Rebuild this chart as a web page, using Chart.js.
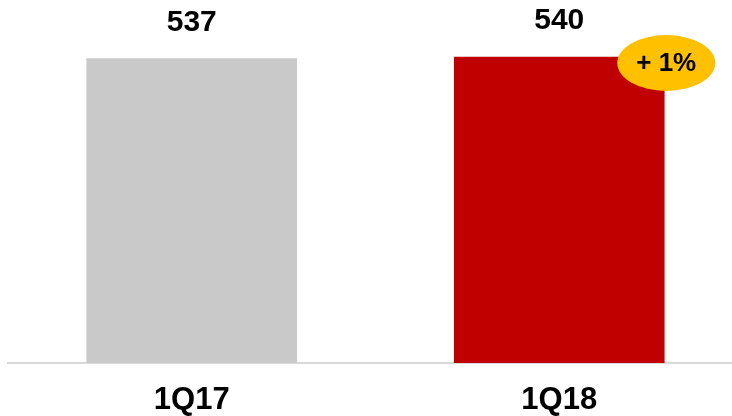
<!DOCTYPE html>
<html>
<head>
<meta charset="utf-8">
<script src="https://cdn.jsdelivr.net/npm/chart.js@4"></script>
<style>
  html, body { margin: 0; padding: 0; background: #fff; overflow: hidden; }
  #wrap { width: 732px; height: 416px; overflow: hidden; }
</style>
</head>
<body>
<div id="wrap"><canvas id="chart" width="743" height="416"></canvas></div>
<script>
// Chart data
var categories = ['1Q17', '1Q18'];
var values = [537, 540];
var barColors = ['#C9C9C9', '#C00000'];
var badges = ['', '+ 1%'];

var FONT = '"Liberation Sans", Arial, sans-serif';

// Draw value labels above bars and the yellow growth badge
var labelPlugin = {
  id: 'labels',
  afterDatasetsDraw: function (chart) {
    var ctx = chart.ctx;
    var meta = chart.getDatasetMeta(0);
    ctx.save();
    meta.data.forEach(function (bar, i) {
      ctx.fillStyle = '#000';
      ctx.font = 'bold 30px ' + FONT;
      ctx.textAlign = 'center';
      ctx.textBaseline = 'middle';
      ctx.fillText(values[i], bar.x, bar.y - 36);

      if (badges[i]) {
        var cx = bar.x + bar.width / 2 + 2;
        var cy = bar.y + 6;
        ctx.beginPath();
        ctx.ellipse(cx, cy, 49, 28, 0, 0, Math.PI * 2);
        ctx.fillStyle = '#FFC000';
        ctx.fill();
        ctx.fillStyle = '#000';
        ctx.font = 'bold 26px ' + FONT;
        ctx.fillText(badges[i], cx, cy + 1);
      }
    });
    ctx.restore();
  }
};

new Chart(document.getElementById('chart'), {
  type: 'bar',
  data: {
    labels: categories,
    datasets: [{
      data: values,
      backgroundColor: barColors,
      borderWidth: 0,
      barThickness: 210
    }]
  },
  options: {
    responsive: false,
    animation: false,
    layout: { padding: { top: 23, left: 8, right: 0, bottom: 0 } },
    plugins: { legend: { display: false }, tooltip: { enabled: false } },
    scales: {
      x: {
        grid: { display: false, drawTicks: false },
        border: { display: true, color: '#D9D9D9', width: 2 },
        ticks: {
          color: '#000',
          padding: 22,
          font: { family: FONT, size: 31, weight: 'bold', lineHeight: 1 }
        },
        afterFit: function (scale) { scale.height = 53; }
      },
      y: {
        display: false,
        min: 0,
        max: 600
      }
    }
  },
  plugins: [labelPlugin]
});
</script>
</body>
</html>
